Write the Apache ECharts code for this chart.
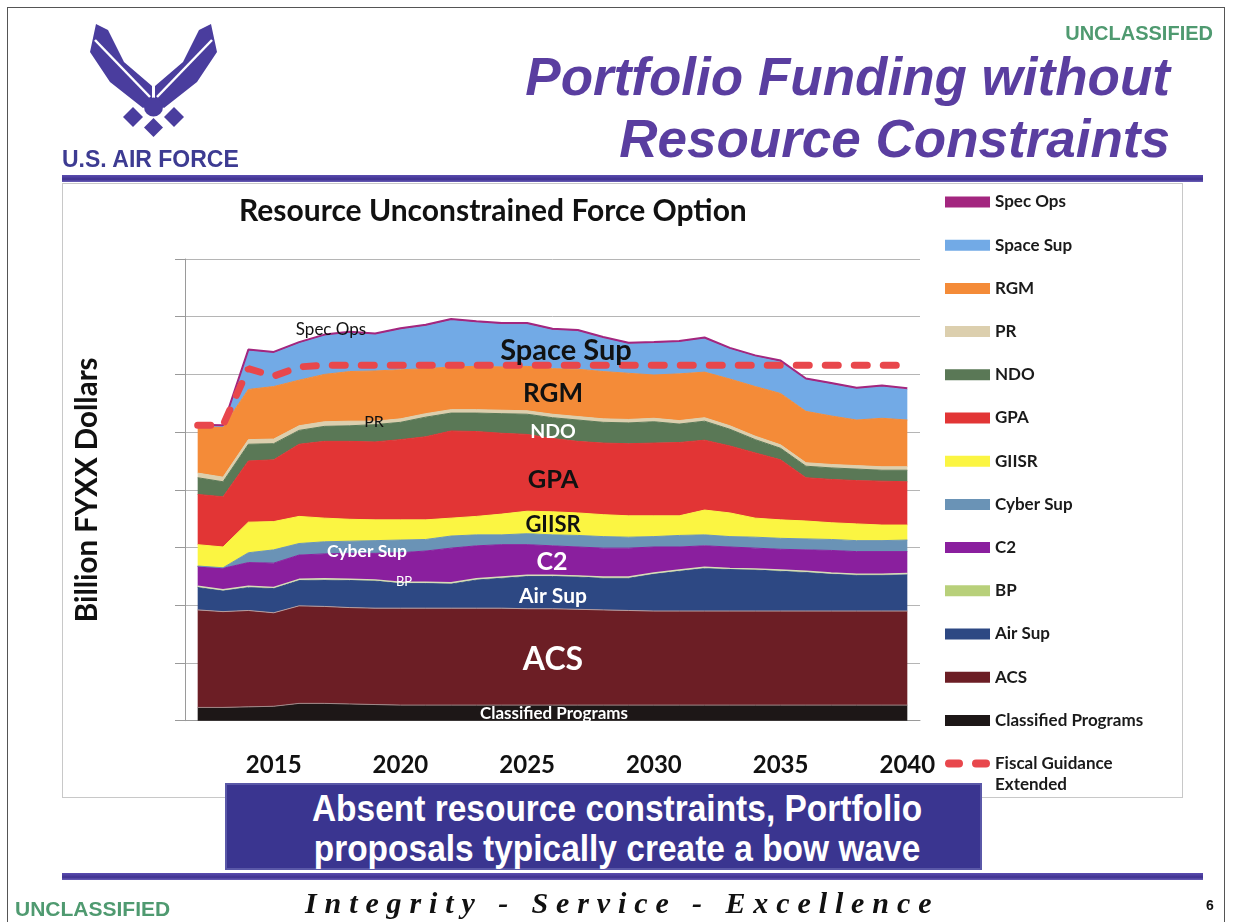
<!DOCTYPE html>
<html>
<head>
<meta charset="utf-8">
<title>Portfolio Funding without Resource Constraints</title>
<script src="https://cdn.jsdelivr.net/npm/echarts@6.0.0/dist/echarts.min.js"></script>
<style>
  html, body { margin: 0; padding: 0; background: #fff; }
  #slide { position: relative; width: 1233px; height: 922px; overflow: hidden; font-family: 'Liberation Sans', Arial, sans-serif; }
  #chart { position: absolute; left: 0; top: 0; width: 1233px; height: 922px; }
  .abs { position: absolute; white-space: nowrap; }
  #frame { left: 7px; top: 7px; width: 1218px; height: 930px; border: 1px solid #555; box-sizing: border-box; }
  #chartBox { left: 62px; top: 183px; width: 1121px; height: 615px; border: 1px solid #c8c8c8; box-sizing: border-box; }
  .bar { left: 62px; width: 1141px; height: 7px; background: linear-gradient(#5b4db0, #3f3190 60%, #6a5fb8); }
  .unclass { color: #4f9a70; font-weight: bold; font-size: 20px; line-height: 20px; }
  .title { right: 63px; color: #5a3ea0; font-weight: bold; font-style: italic; font-size: 53px; line-height: 53px; text-align: right; }
  #usaf { left: 62px; top: 148px; color: #3d3b92; font-weight: bold; font-size: 23px; line-height: 23px; }
  #motto { left: 305px; top: 888px; font-family: 'Liberation Serif', 'Times New Roman', serif; font-style: italic; font-weight: bold; font-size: 30px; line-height: 30px; letter-spacing: 7.9px; color: #111; }
  #page { left: 1206px; top: 898px; font-weight: bold; font-size: 14px; line-height: 14px; color: #111; }
  #callout { left: 225px; top: 783px; width: 757px; height: 87px; background: #3a3590; box-shadow: inset 0 0 0 2px #5a58a8; }
  .callText { left: 617px; color: #fff; font-weight: bold; font-size: 36px; line-height: 36px; transform: translateX(-50%) scaleX(0.93); }
</style>
</head>
<body>
<div id="slide">
  <div id="frame" class="abs"></div>
  <div id="chartBox" class="abs"></div>
  <div id="chart"></div>

  <svg class="abs" style="left:0;top:0" width="320" height="145" viewBox="0 0 320 145">
    <g fill="#4a3d9e">
      <polygon points="96,24 108,30 124,62 152,86 152,102 143,108 110,82 90,52"/>
      <polygon points="211,24 199,30 183,62 155,86 155,102 164,108 197,82 217,52"/>
      <circle cx="153.5" cy="107" r="9.5"/>
      <polygon points="133,107 143,117 133,127 123,117"/>
      <polygon points="174,107 184,117 174,127 164,117"/>
      <polygon points="153.5,118 163,127.5 153.5,137 144,127.5"/>
    </g>
    <g stroke="#fff" stroke-width="2.5">
      <line x1="95" y1="40" x2="150" y2="97"/>
      <line x1="212" y1="40" x2="157" y2="97"/>
    </g>
  </svg>

  <div id="usaf" class="abs">U.S. AIR FORCE</div>
  <div class="abs unclass" style="right:20px;top:23px">UNCLASSIFIED</div>
  <div class="abs title" style="top:50px">Portfolio Funding without</div>
  <div class="abs title" style="top:112px">Resource Constraints</div>
  <div class="abs bar" style="top:175px"></div>

  <div id="callout" class="abs"></div>
  <div class="abs callText" style="top:791px">Absent resource constraints, Portfolio</div>
  <div class="abs callText" style="top:831px">proposals typically create a bow wave</div>

  <div class="abs bar" style="top:873px"></div>
  <div class="abs unclass" style="left:15px;top:899px;font-size:21px">UNCLASSIFIED</div>
  <div id="motto" class="abs">Integrity - Service - Excellence</div>
  <div id="page" class="abs">6</div>
</div>

<script>
// fiscal years on the x axis
const years = ['2012', '2013', '2014', '2015', '2016', '2017', '2018', '2019', '2020', '2021',
  '2022', '2023', '2024', '2025', '2026', '2027', '2028', '2029', '2030', '2031',
  '2032', '2033', '2034', '2035', '2036', '2037', '2038', '2039', '2040']

// portfolio layers, billion FYXX dollars, bottom to top
const classified = [2.3, 2.3, 2.4, 2.5, 3.0, 3.0, 2.9, 2.8, 2.7, 2.7, 2.7, 2.7, 2.7, 2.7, 2.7, 2.7, 2.7, 2.7, 2.7, 2.7, 2.7, 2.7, 2.7, 2.7, 2.7, 2.7, 2.7, 2.7, 2.7]
const acs = [16.9, 16.6, 16.7, 16.2, 16.9, 16.8, 16.7, 16.7, 16.8, 16.8, 16.8, 16.8, 16.8, 16.7, 16.7, 16.6, 16.5, 16.4, 16.3, 16.3, 16.3, 16.3, 16.3, 16.3, 16.3, 16.3, 16.3, 16.3, 16.3]
const airSup = [3.9, 3.6, 4.0, 4.2, 4.4, 4.6, 4.7, 4.7, 4.3, 4.3, 4.2, 4.9, 5.2, 5.6, 5.6, 5.6, 5.5, 5.6, 6.4, 6.9, 7.4, 7.2, 7.1, 6.9, 6.7, 6.4, 6.2, 6.2, 6.3]
const bp = [0.2, 0.2, 0.2, 0.2, 0.2, 0.2, 0.2, 0.2, 0.2, 0.2, 0.2, 0.2, 0.2, 0.2, 0.2, 0.2, 0.2, 0.2, 0.2, 0.2, 0.2, 0.2, 0.2, 0.2, 0.2, 0.2, 0.2, 0.2, 0.2]
const c2 = [3.4, 3.7, 4.1, 4.2, 4.2, 4.3, 4.5, 4.6, 5.1, 5.4, 6.0, 5.7, 5.6, 5.3, 5.1, 5.0, 5.0, 5.0, 4.5, 4.0, 3.7, 3.7, 3.6, 3.6, 3.7, 3.9, 3.9, 3.9, 3.8]
const cyberSup = [0.1, 0.1, 1.7, 2.3, 2.0, 2.1, 2.1, 2.2, 2.2, 2.0, 2.1, 1.9, 1.7, 1.9, 1.9, 2.0, 2.0, 1.9, 1.8, 2.0, 1.9, 1.8, 1.9, 1.9, 1.9, 1.9, 1.9, 1.9, 2.0]
const giisr = [3.7, 3.6, 5.3, 4.9, 4.7, 4.1, 3.8, 3.6, 3.5, 3.4, 3.1, 3.2, 3.6, 3.9, 4.0, 3.9, 3.8, 3.7, 3.6, 3.4, 4.3, 4.1, 3.3, 3.2, 3.1, 2.9, 2.9, 2.7, 2.6]
const gpa = [8.7, 8.7, 10.6, 10.7, 12.5, 13.3, 13.5, 13.5, 13.9, 14.4, 15.1, 14.7, 14.0, 13.3, 12.7, 12.4, 12.4, 12.5, 12.6, 12.7, 12.1, 11.6, 11.3, 10.4, 7.5, 7.5, 7.5, 7.6, 7.5]
const ndo = [2.9, 2.6, 2.9, 2.8, 2.4, 2.6, 2.7, 3.0, 3.0, 3.4, 3.1, 3.2, 3.4, 3.5, 3.6, 3.7, 3.6, 3.6, 3.7, 3.2, 3.3, 2.9, 2.3, 2.0, 2.0, 2.0, 2.0, 1.9, 2.0]
const pr = [0.8, 0.8, 0.8, 0.8, 0.8, 0.8, 0.8, 0.6, 0.6, 0.6, 0.6, 0.6, 0.6, 0.6, 0.6, 0.6, 0.6, 0.6, 0.6, 0.6, 0.6, 0.6, 0.6, 0.6, 0.6, 0.6, 0.6, 0.6, 0.6]
const rgm = [8.1, 8.7, 8.7, 9.1, 7.9, 8.2, 8.6, 8.7, 8.5, 7.8, 7.4, 7.5, 7.5, 7.7, 7.9, 8.2, 8.2, 8.0, 7.5, 8.1, 7.9, 8.1, 8.6, 8.9, 8.9, 8.4, 7.9, 8.4, 8.1]
const spaceSup = [0.1, 0.1, 6.7, 5.8, 6.4, 6.7, 6.7, 6.3, 7.0, 7.4, 8.1, 7.6, 7.4, 7.3, 6.7, 6.6, 5.8, 5.1, 5.5, 5.5, 5.8, 5.2, 5.2, 5.5, 5.5, 5.5, 5.4, 5.5, 5.3]
const specOps = [0.2, 0.2, 0.2, 0.2, 0.2, 0.2, 0.2, 0.2, 0.2, 0.2, 0.2, 0.2, 0.2, 0.2, 0.2, 0.2, 0.2, 0.2, 0.2, 0.2, 0.2, 0.2, 0.2, 0.2, 0.2, 0.2, 0.2, 0.2, 0.2]

// fiscal guidance extended (total topline)
const fiscalGuidance = [51.2, 51.2, 61.0, 59.7, 61.3, 61.6, 61.6, 61.6, 61.6, 61.6, 61.6, 61.6, 61.6, 61.6, 61.6, 61.6, 61.6, 61.6, 61.6, 61.6, 61.6, 61.6, 61.6, 61.6, 61.6, 61.6, 61.6, 61.6, 61.6]

// y axis: 0..80 in steps of 10, labels not shown on the slide
const yMax = 80
const yStep = 10

// name, data, fill colour, top edge line (colour, width)
const layers = [
  ['Classified Programs', classified, '#1d1717', '#a08888', 1],
  ['ACS', acs, '#6c1e25', '#b89c9c', 1],
  ['Air Sup', airSup, '#2d4883', '#2d4883', 1],
  ['BP', bp, '#b8d07a', '#d6ddb8', 1.4],
  ['C2', c2, '#8a1f9e', '#8a1f9e', 1],
  ['Cyber Sup', cyberSup, '#6a93b6', '#6a93b6', 1],
  ['GIISR', giisr, '#fbf542', '#fbf542', 1],
  ['GPA', gpa, '#e23535', '#e23535', 1],
  ['NDO', ndo, '#5a7856', '#5a7856', 1],
  ['PR', pr, '#dccfae', '#dccfae', 1],
  ['RGM', rgm, '#f48b38', '#f48b38', 1],
  ['Space Sup', spaceSup, '#72aae6', '#72aae6', 1],
  ['Spec Ops', specOps, '#a3267f', '#a3267f', 2]
]

const fiscalName = 'Fiscal Guidance Extended'
const fiscalColor = '#e8474c'

const chart = echarts.init(document.getElementById('chart'), null, { renderer: 'canvas' })

const series = layers.map(([name, data, color, edge, edgeWidth]) => ({
  name,
  type: 'line',
  stack: 'portfolio',
  data,
  symbol: 'none',
  itemStyle: { color },
  lineStyle: { color: edge, width: edgeWidth },
  areaStyle: { color, opacity: 1 },
  emphasis: { disabled: true },
  silent: true
}))

series.push({
  name: fiscalName,
  type: 'line',
  data: fiscalGuidance,
  symbol: 'none',
  z: 5,
  itemStyle: { color: fiscalColor },
  lineStyle: { color: fiscalColor, width: 7, type: [13, 16], cap: 'round' },
  emphasis: { disabled: true },
  silent: true
})

const legendData = layers.slice().reverse().map(l => ({ name: l[0], icon: 'rect' }))
legendData.push({
  name: fiscalName,
  icon: 'path://M4,0H14A4,4 0 0 1 14,8H4A4,4 0 0 1 4,0Z M31,0H41A4,4 0 0 1 41,8H31A4,4 0 0 1 31,0Z'
})

// in-chart annotations, drawn above the areas
function note(text, x, y, size, color, weight) {
  return {
    type: 'text',
    x, y,
    z: 100,
    silent: true,
    style: {
      text,
      fill: color,
      font: (weight || 'bold') + ' ' + size + 'px Lato, "Open Sans", sans-serif',
      align: 'center',
      verticalAlign: 'middle'
    }
  }
}

chart.setOption({
  animation: false,
  backgroundColor: 'transparent',
  title: {
    text: 'Resource Unconstrained Force Option',
    left: 234,
    top: 191,
    textStyle: { fontFamily: 'Lato', fontWeight: 'bold', fontSize: 30, color: '#111' }
  },
  legend: {
    orient: 'vertical',
    left: 945,
    top: 193,
    padding: 0,
    itemWidth: 45,
    itemHeight: 11,
    itemGap: 25.2,
    selectedMode: false,
    itemStyle: { borderWidth: 0 },
    textStyle: { fontFamily: 'Lato', fontWeight: 'bold', fontSize: 17, lineHeight: 18, color: '#1a1a1a' },
    data: legendData,
    formatter: name => (name === fiscalName ? 'Fiscal Guidance' : name)
  },
  grid: { left: 185, top: 259, width: 735, bottom: 201.3 },
  xAxis: {
    type: 'category',
    data: years,
    boundaryGap: true,
    axisLine: { lineStyle: { color: '#9a9a9a' } },
    axisTick: { interval: 0, length: 9, lineStyle: { color: '#9a9a9a' } },
    axisLabel: {
      interval: (i, v) => Number(v) % 5 === 0,
      margin: 33,
      fontFamily: 'Lato',
      fontWeight: 'bold',
      fontSize: 24,
      color: '#111'
    },
    splitLine: { show: false }
  },
  yAxis: {
    type: 'value',
    min: 0,
    max: yMax,
    interval: yStep,
    name: 'Billion FYXX Dollars',
    nameLocation: 'middle',
    nameGap: 83,
    nameRotate: 90,
    nameTextStyle: { fontFamily: 'Lato', fontWeight: 'bold', fontSize: 29.5, color: '#111' },
    axisLine: { show: true, lineStyle: { color: '#9a9a9a' } },
    axisTick: { show: true, length: 10, lineStyle: { color: '#9a9a9a' } },
    axisLabel: { show: false },
    splitLine: { lineStyle: { color: '#b5b5b5' } }
  },
  series,
  graphic: [
    note('Spec Ops', 331, 330, 17, '#111', 'normal'),
    note('Space Sup', 566, 351, 29, '#111'),
    note('RGM', 553, 394, 26, '#111'),
    note('PR', 374, 422, 16, '#111', 'normal'),
    note('NDO', 553, 432, 19.5, '#fff'),
    note('GPA', 553, 480, 25.5, '#111'),
    note('GIISR', 553, 525, 22, '#111'),
    note('Cyber Sup', 367, 551, 17.5, '#fff'),
    note('C2', 552, 562, 25, '#fff'),
    note('BP', 404, 582, 13, '#fff', 'normal'),
    note('Air Sup', 553, 596, 21, '#fff'),
    note('ACS', 553, 660, 32, '#fff'),
    note('Classified Programs', 554, 714, 17, '#fff'),
    {
      type: 'text',
      x: 995,
      y: 785,
      z: 100,
      silent: true,
      style: { text: 'Extended', fill: '#1a1a1a', font: 'bold 17px Lato, sans-serif', align: 'left', verticalAlign: 'middle' }
    }
  ]
})
</script>
</body>
</html>
